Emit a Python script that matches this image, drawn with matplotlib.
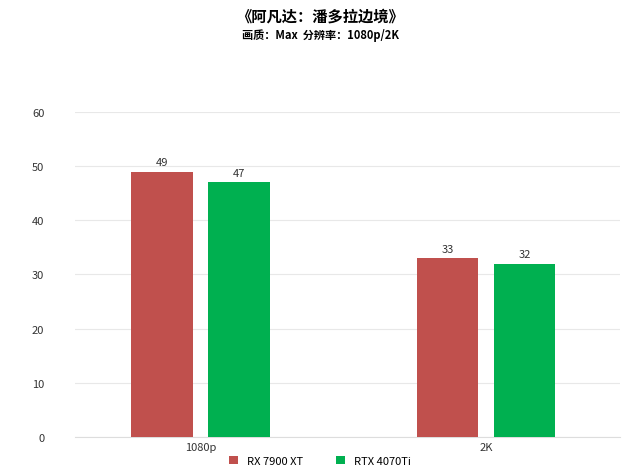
import matplotlib
matplotlib.use("Agg")
import matplotlib.pyplot as plt
import numpy as np

plt.rcParams['font.family'] = ['Noto Sans CJK SC', 'DejaVu Sans']

categories = ["1080p", "2K"]
series_names = ["RX 7900 XT", "RTX 4070Ti"]
values = [[49, 33], [47, 32]]
colors = ["#C0504D", "#00B050"]
yticks = [0, 10, 20, 30, 40, 50, 60]

fig = plt.figure(figsize=(6.4, 4.77), dpi=100)
ax = fig.add_axes([0.117, 0.082, 0.852, 0.681])
x = np.arange(len(categories))
w = 0.214
offs = [-0.135, 0.135]
for i, (name, vals) in enumerate(zip(series_names, values)):
    bars = ax.bar(x + offs[i], vals, w, color=colors[i], label=name, zorder=3)
    for b, v in zip(bars, vals):
        ax.text(b.get_x() + b.get_width() / 2, v + 0.8, str(v), ha='center', va='bottom',
                fontsize=8, color='#333333')
ax.set_xlim(-0.44, 1.47)
ax.set_ylim(0, 60)
ax.set_yticks(yticks)
ax.set_xticks(x)
ax.set_xticklabels(categories)
ax.tick_params(axis='both', length=0, labelsize=8, colors='#333333')
ax.tick_params(axis='y', pad=22)
ax.grid(axis='y', color='#E8E8E8', linewidth=0.8, zorder=0)
for s in ['top', 'right', 'left']:
    ax.spines[s].set_visible(False)
ax.spines['bottom'].set_color('#DDDDDD')
fig.text(0.5, 0.965, "《阿凡达：潘多拉边境》", ha='center', va='center', fontsize=11, fontweight='bold')
fig.text(0.5, 0.925, "画质：Max  分辨率：1080p/2K", ha='center', va='center', fontsize=8, fontweight='bold')
fig.legend(loc='lower center', bbox_to_anchor=(0.5, 0.0), ncol=2, frameon=False, fontsize=8,
           handlelength=0.8, handleheight=0.8, columnspacing=3)
fig.savefig("out.png", dpi=100)
